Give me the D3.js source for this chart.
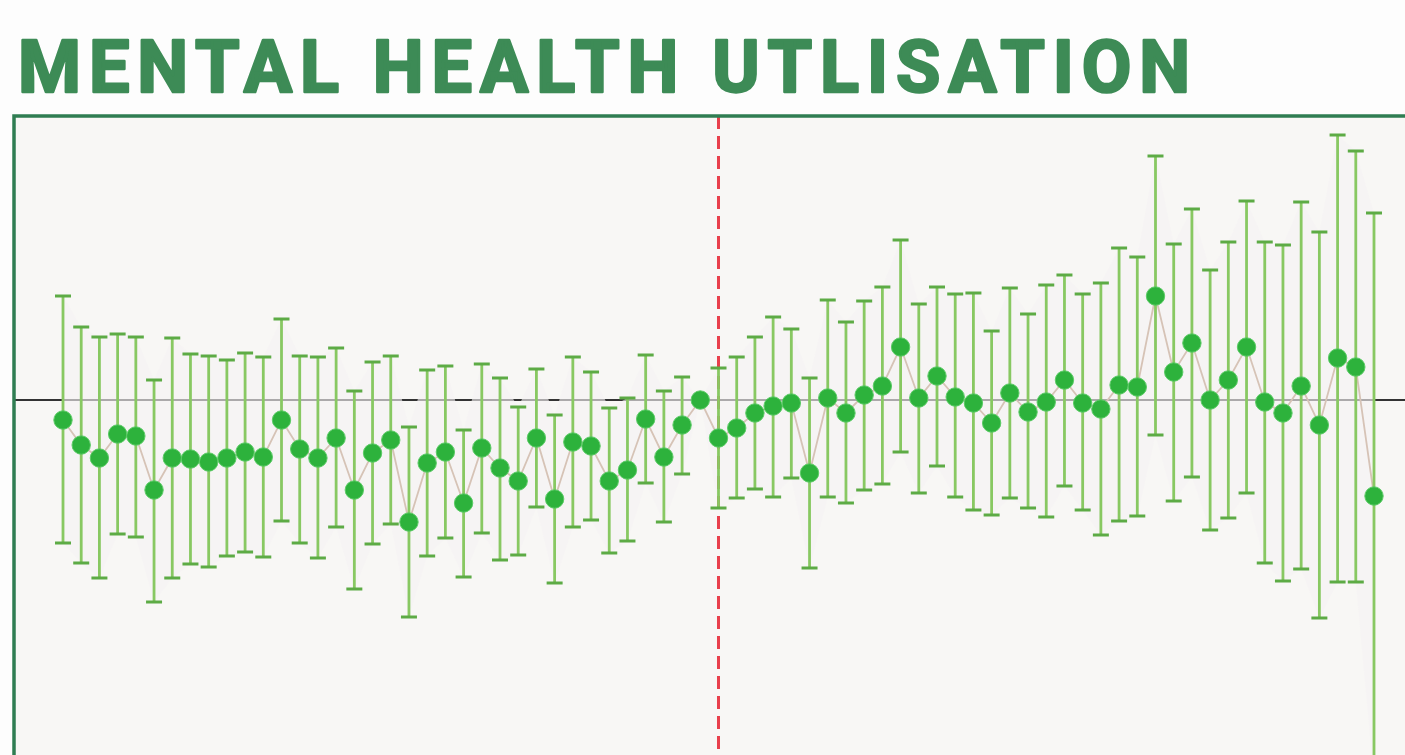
<!DOCTYPE html>
<html>
<head>
<meta charset="utf-8">
<script src="https://cdn.jsdelivr.net/npm/d3@7/dist/d3.min.js"></script>
<style>
  html, body { margin: 0; padding: 0; background: #fdfdfd; }
  svg { display: block; }
</style>
</head>
<body>
<svg id="chart"></svg>
<script>
var title = "MENTAL HEALTH UTLISATION";
// estimate per period, with upper and lower bounds of the interval
var estimates = [-0.40, -0.90, -1.16, -0.68, -0.72, -1.80, -1.16, -1.18, -1.24, -1.16,
  -1.04, -1.14, -0.40, -0.98, -1.16, -0.76, -1.80, -1.06, -0.80, -2.44,
  -1.26, -1.04, -2.06, -0.96, -1.36, -1.62, -0.76, -1.98, -0.84, -0.92,
  -1.62, -1.40, -0.38, -1.14, -0.50, 0.00, -0.76, -0.56, -0.26, -0.12,
  -0.06, -1.46, 0.04, -0.26, 0.10, 0.28, 1.06, 0.04, 0.48, 0.06,
  -0.06, -0.46, 0.14, -0.24, -0.04, 0.40, -0.06, -0.18, 0.30, 0.26,
  2.08, 0.56, 1.14, 0.00, 0.40, 1.06, -0.04, -0.26, 0.28, -0.50,
  0.84, 0.66, -1.92];
var upper = [2.08, 1.46, 1.26, 1.32, 1.26, 0.40, 1.24, 0.92, 0.88, 0.80,
  0.94, 0.86, 1.62, 0.88, 0.86, 1.04, 0.18, 0.76, 0.88, -0.54,
  0.60, 0.68, -0.60, 0.72, 0.44, -0.14, 0.62, -0.30, 0.86, 0.56,
  -0.16, 0.04, 0.90, 0.18, 0.46, 0.00, 0.64, 0.86, 1.26, 1.66,
  1.42, 0.44, 2.00, 1.56, 1.98, 2.26, 3.20, 1.92, 2.26, 2.12,
  2.14, 1.38, 2.24, 1.72, 2.30, 2.50, 2.12, 2.34, 3.04, 2.86,
  4.88, 3.12, 3.82, 2.60, 3.16, 3.98, 3.16, 3.10, 3.96, 3.36,
  5.30, 4.98, 3.74];
var lower = [-2.86, -3.26, -3.56, -2.68, -2.74, -4.04, -3.56, -3.28, -3.34, -3.12,
  -3.04, -3.14, -2.42, -2.86, -3.16, -2.54, -3.78, -2.88, -2.48, -4.34,
  -3.12, -2.76, -3.54, -2.66, -3.20, -3.10, -2.14, -3.66, -2.54, -2.40,
  -3.06, -2.82, -1.66, -2.44, -1.48, 0.00, -2.16, -1.96, -1.78, -1.94,
  -1.56, -3.36, -1.94, -2.06, -1.80, -1.68, -1.04, -1.86, -1.32, -1.94,
  -2.20, -2.30, -1.96, -2.16, -2.34, -1.72, -2.20, -2.70, -2.42, -2.32,
  -0.70, -2.02, -1.54, -2.60, -2.36, -1.86, -3.26, -3.62, -3.38, -4.36,
  -3.64, -3.64, -7.60];
var periods = d3.range(1, estimates.length + 1);
var interventionPeriod = 37;

var W = 1405, H = 755;
var svg = d3.select("#chart").attr("width", W).attr("height", H);

var frame = { left: 14, top: 116, right: 1420, bottom: 790 };

var x = d3.scaleLinear().domain([1, periods.length]).range([63, 1374]);
var y = d3.scaleLinear().domain([-8, 8]).range([800, 0]);

var data = periods.map(function(p, i) {
  return { p: p, v: estimates[i], hi: upper[i], lo: lower[i] };
});

// title
svg.append("text")
  .attr("x", 18)
  .attr("y", 92)
  .attr("textLength", 1172)
  .attr("lengthAdjust", "spacing")
  .style("font-family", "Roboto, 'DejaVu Sans', sans-serif")
  .style("font-weight", 700)
  .style("font-size", "72px")
  .style("fill", "#3d8b56")
  .style("stroke", "#3d8b56")
  .style("stroke-width", 2.5)
  .style("stroke-linejoin", "round")
  .text(title);

// plot panel
svg.append("clipPath").attr("id", "panel-clip")
  .append("rect")
  .attr("x", frame.left).attr("y", frame.top)
  .attr("width", frame.right - frame.left).attr("height", frame.bottom - frame.top);

svg.append("rect")
  .attr("x", frame.left).attr("y", frame.top)
  .attr("width", frame.right - frame.left).attr("height", frame.bottom - frame.top)
  .attr("fill", "#f8f7f5");

var g = svg.append("g").attr("clip-path", "url(#panel-clip)");

// zero line
g.append("line")
  .attr("x1", frame.left).attr("x2", frame.right)
  .attr("y1", y(0)).attr("y2", y(0))
  .attr("stroke", "#333")
  .attr("stroke-width", 2);

// interval band
g.append("path")
  .datum(data)
  .attr("d", d3.area()
    .x(function(d) { return x(d.p); })
    .y0(function(d) { return y(d.lo); })
    .y1(function(d) { return y(d.hi); }))
  .attr("fill", "#f6f2f4")
  .attr("fill-opacity", 0.62);

// intervention marker
g.append("line")
  .attr("x1", x(interventionPeriod)).attr("x2", x(interventionPeriod))
  .attr("y1", frame.top).attr("y2", frame.bottom)
  .attr("stroke", "#e8404c")
  .attr("stroke-width", 3)
  .attr("stroke-dasharray", "13,7");

// connecting line
g.append("path")
  .datum(data)
  .attr("d", d3.line()
    .x(function(d) { return x(d.p); })
    .y(function(d) { return y(d.v); }))
  .attr("fill", "none")
  .attr("stroke", "#d6c3b6")
  .attr("stroke-width", 1.8);

// error bars
var bars = g.append("g").selectAll("g").data(data.filter(function(d) { return d.hi !== d.lo; }))
  .enter().append("g");

bars.append("line")
  .attr("x1", function(d) { return x(d.p); })
  .attr("x2", function(d) { return x(d.p); })
  .attr("y1", function(d) { return y(d.hi); })
  .attr("y2", function(d) { return y(d.lo); })
  .attr("stroke", "#88c862")
  .attr("stroke-width", 2.8);

["hi", "lo"].forEach(function(k) {
  bars.append("line")
    .attr("x1", function(d) { return x(d.p) - 8; })
    .attr("x2", function(d) { return x(d.p) + 8; })
    .attr("y1", function(d) { return y(d[k]); })
    .attr("y2", function(d) { return y(d[k]); })
    .attr("stroke", "#5dab45")
    .attr("stroke-width", 3);
});

// points
g.append("g").selectAll("circle").data(data)
  .enter().append("circle")
  .attr("cx", function(d) { return x(d.p); })
  .attr("cy", function(d) { return y(d.v); })
  .attr("r", 9.2)
  .attr("fill", "#2db23c")
  .attr("stroke", "#5ccb66")
  .attr("stroke-width", 1);

// frame
svg.append("path")
  .attr("d", "M" + frame.left + "," + frame.bottom + "V" + frame.top + "H" + frame.right)
  .attr("fill", "none")
  .attr("stroke", "#2f7d52")
  .attr("stroke-width", 3.5);
</script>
</body>
</html>
